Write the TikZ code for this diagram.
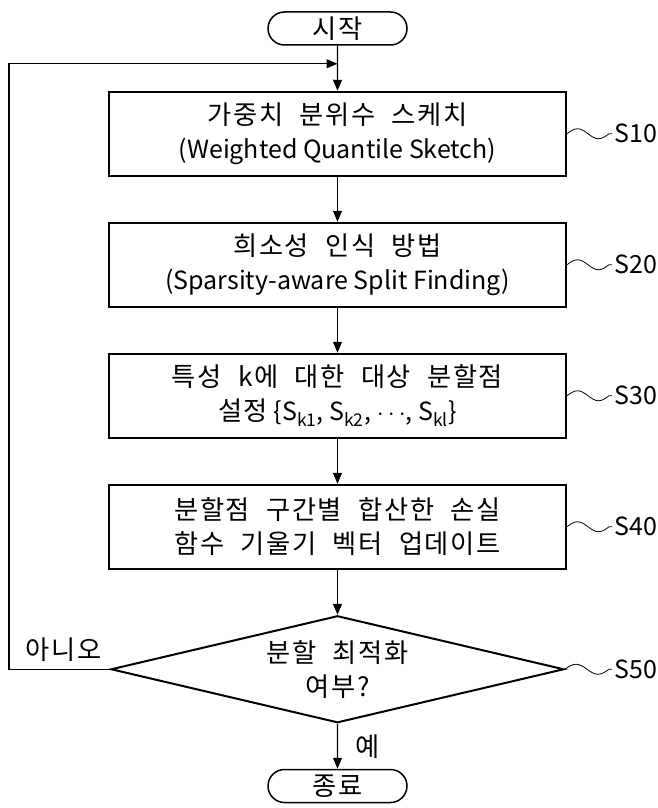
\documentclass[tikz,border=0pt]{standalone}
\usepackage{fontspec}
\setmainfont{Noto Sans CJK KR}
\newfontfamily\kor[LetterSpace=6,WordSpace=2.2,Scale=1.05]{Noto Sans CJK KR}
\usetikzlibrary{shapes.geometric,shapes.misc,positioning,arrows.meta,calc}
\tikzset{
    stepbox/.style={
        draw,line width=2pt,minimum width=457pt,minimum height=84pt,align=center,inner sep=0pt
    },
    termnode/.style={
        draw,rounded rectangle,line width=1.5pt,minimum width=139pt,minimum height=33pt,inner sep=0pt
    },
    decnode/.style={
        draw,diamond,aspect=4.2,line width=2pt,minimum width=453pt,minimum height=107pt,align=center,inner sep=0pt
    },
    steplabel/.style={inner sep=2pt},
    lbl/.style={inner sep=0pt},
    wave/.style={line width=.8pt}
}

\begin{document}
\begin{tikzpicture}[>={Triangle[length=11pt,width=9pt]}, line width=1.1pt, node distance=45pt,
    font=\fontsize{25pt}{34pt}\selectfont]
\useasboundingbox (0,0) rectangle (657pt,-808pt);
\node[termnode] (start) at (337.5pt,-28.5pt) {\kor 시작};
\node[stepbox,below=of start] (s10) {{\kor 가중치 분위수 스케치}\\(Weighted Quantile Sketch)};
\node[stepbox,below=of s10] (s20) {{\kor 희소성 인식 방법}\\(Sparsity-aware Split Finding)};
\node[stepbox,below=of s20] (s30) {{\kor 특성 k에 대한 대상 분할점}\\{\kor 설정} \{S\textsubscript{k1}, S\textsubscript{k2}, $\cdots$, S\textsubscript{kl}\}};
\node[stepbox,below=of s30] (s40) {{\kor 분할점 구간별 합산한 손실}\\{\kor 함수 기울기 벡터 업데이트}};
\node[decnode,below=of s40] (dec) {{\kor 분할 최적화}\\{\kor 여부?}};
\node[termnode,below=of dec] (end) {\kor 종료};
\coordinate (merge) at ($(start.south)!.4!(s10.north)$);
\coordinate (mid) at ($(dec.south)!.5!(end.north)$);
% step numbers
\node[steplabel,right=45pt of s10] (l10) {S10};
\node[steplabel,right=45pt of s20] (l20) {S20};
\node[steplabel,right=45pt of s30] (l30) {S30};
\node[steplabel,right=45pt of s40] (l40) {S40};
\node[steplabel,right=47pt of dec] (l50) {S50};
\node[lbl,above left=7pt and 8pt of dec.west] (no) {\kor 아니오};
\node[lbl,right=17pt of mid] (yes) {\kor 예};
\draw[wave] (s10.east) sin ++(10.5pt,5pt) cos ++(10.5pt,-5pt) sin ++(10.5pt,-5pt) cos ++(10.5pt,5pt) -- (l10.west);
\draw[wave] (s20.east) sin ++(10.5pt,5pt) cos ++(10.5pt,-5pt) sin ++(10.5pt,-5pt) cos ++(10.5pt,5pt) -- (l20.west);
\draw[wave] (s30.east) sin ++(10.5pt,5pt) cos ++(10.5pt,-5pt) sin ++(10.5pt,-5pt) cos ++(10.5pt,5pt) -- (l30.west);
\draw[wave] (s40.east) sin ++(10.5pt,5pt) cos ++(10.5pt,-5pt) sin ++(10.5pt,-5pt) cos ++(10.5pt,5pt) -- (l40.west);
\draw[wave] (dec.east) sin ++(11pt,5pt) cos ++(11pt,-5pt) sin ++(11pt,-5pt) cos ++(11pt,5pt) -- (l50.west);
\draw[->] (start) -- (s10);
\draw[->] (s10) -- (s20);
\draw[->] (s20) -- (s30);
\draw[->] (s30) -- (s40);
\draw[->] (s40) -- (dec);
\draw[->] (dec) -- (end);
\draw[->] (dec.west) -- ++(-101pt,0) |- (merge);
\end{tikzpicture}
\end{document}
